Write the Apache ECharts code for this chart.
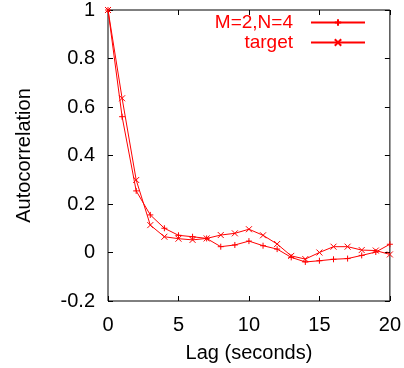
<!DOCTYPE html>
<html>
<head>
<meta charset="utf-8">
<script src="https://cdn.jsdelivr.net/npm/echarts@6/dist/echarts.min.js"></script>
<style>html,body{margin:0;padding:0;background:#fff}#c{width:404px;height:368px}</style>
</head>
<body>
<div id="c"></div>
<script>
const lags = [0,1,2,3,4,5,6,7,8,9,10,11,12,13,14,15,16,17,18,19,20];
const modelValues = [1,0.56,0.254,0.155,0.1,0.071,0.065,0.058,0.024,0.031,0.047,0.028,0.014,-0.02,-0.039,-0.034,-0.028,-0.025,-0.012,0.002,0.034];
const targetValues = [1,0.636,0.299,0.113,0.065,0.057,0.052,0.058,0.072,0.079,0.096,0.071,0.035,-0.014,-0.027,0.0,0.024,0.024,0.01,0.008,-0.008];
const seriesNames = ['M=2,N=4','target'];
const xTicks = [0,5,10,15,20];

const FONT = '"Liberation Sans", Arial, Helvetica, sans-serif';
const plus = 'path://M0,5L10,5M5,0L5,10';
const cross = 'path://M0,0L10,10M0,10L10,0';

function mk(name, vals, sym) {
  return {
    name: name, type: 'line',
    data: lags.map((x,i)=>[x, vals[i]]),
    symbol: sym, symbolSize: 6, showSymbol: true, showAllSymbol: true,
    lineStyle: {color: '#ff0000', width: 1},
    itemStyle: {color: '#ff0000', borderColor: '#ff0000', borderWidth: 1},
    emphasis: {disabled: true},
    animation: false
  };
}

const chart = echarts.init(document.getElementById('c'), null, {renderer: 'canvas'});
const axisBase = {
  axisLine: {show: false, onZero: false},
  splitLine: {show: false},
  axisTick: {show: true, inside: true, length: 5, lineStyle: {color: '#000', width: 1}}
};
chart.setOption({
  animation: false,
  textStyle: {fontFamily: FONT},
  grid: {left: 108, right: 13, top: 10, bottom: 67, show: true, borderColor: '#000', borderWidth: 1, backgroundColor: 'transparent'},
  legend: {
    data: seriesNames, orient: 'vertical', align: 'right', padding: 0,
    right: 38, top: 13, itemWidth: 54, itemHeight: 8, itemGap: 1,
    textStyle: {color: '#ff0000', fontSize: 19, fontFamily: FONT, padding: [0, 13, 0, 0]},
    selectedMode: false
  },
  xAxis: [
    Object.assign({}, axisBase, {type: 'value', min: 0, max: 20, interval: 5, position: 'bottom',
      name: 'Lag (seconds)', nameLocation: 'middle', nameGap: 42,
      nameTextStyle: {fontSize: 20, color: '#000', fontFamily: FONT},
      axisLabel: {fontSize: 20, color: '#000', margin: 14, fontFamily: FONT}}),
    Object.assign({}, axisBase, {type: 'value', min: 0, max: 20, interval: 5, position: 'top',
      axisLabel: {show: false}})
  ],
  yAxis: [
    Object.assign({}, axisBase, {type: 'value', min: -0.2, max: 1, interval: 0.2, position: 'left',
      name: 'Autocorrelation', nameLocation: 'middle', nameGap: 74,
      nameTextStyle: {fontSize: 20, color: '#000', fontFamily: FONT},
      axisLabel: {fontSize: 20, color: '#000', margin: 13, fontFamily: FONT}}),
    Object.assign({}, axisBase, {type: 'value', min: -0.2, max: 1, interval: 0.2, position: 'right',
      axisLabel: {show: false}})
  ],
  series: [mk(seriesNames[0], modelValues, plus), mk(seriesNames[1], targetValues, cross)]
});
</script>
</body>
</html>
